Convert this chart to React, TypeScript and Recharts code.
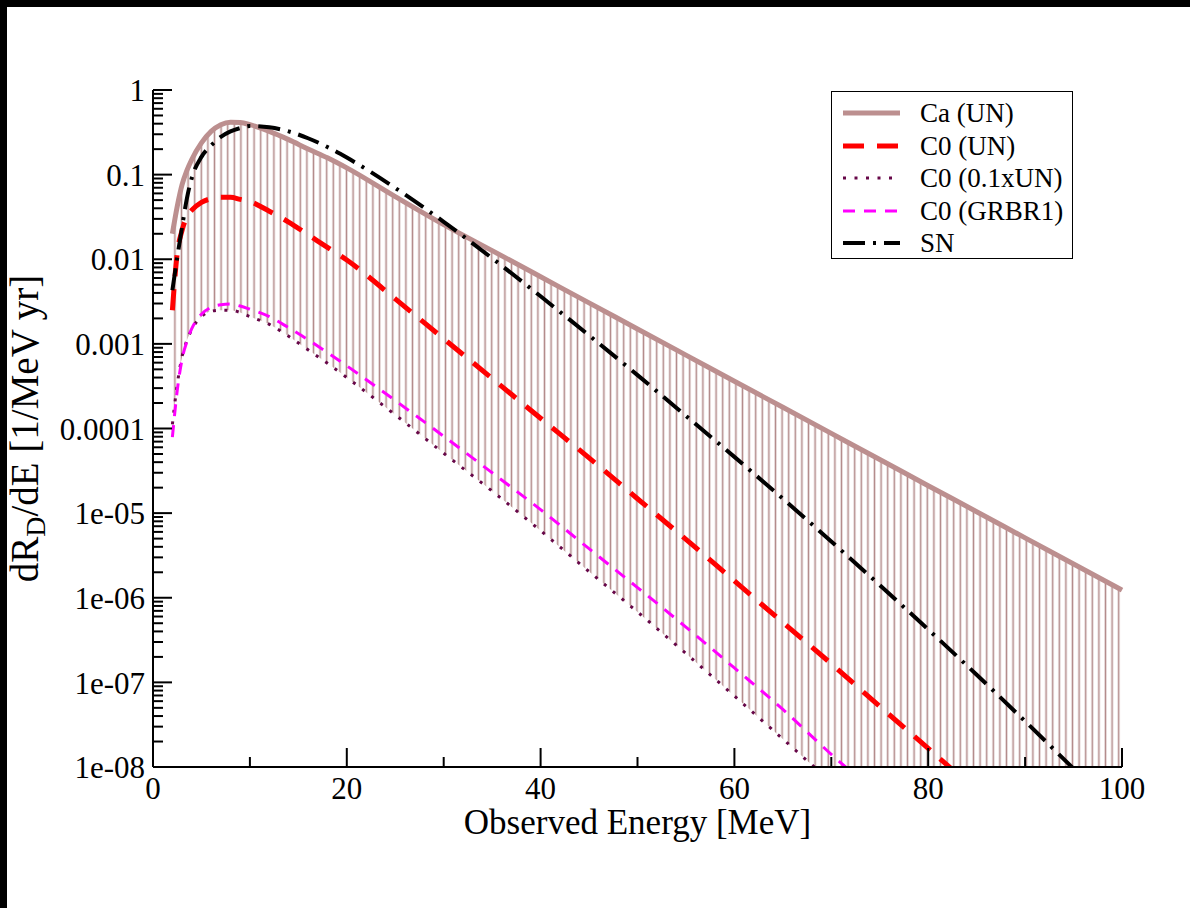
import React from "react";
import {
  ComposedChart,
  Line,
  Area,
  XAxis,
  YAxis,
  Legend,
} from "recharts";

// observed energy grid (MeV)
const ENERGY = [
  2, 2.5, 3, 3.5, 4, 5, 6, 7, 8, 9, 10, 12, 14, 16, 18, 20, 25, 30, 35, 40, 45,
  50, 55, 60, 65, 70, 75, 80, 85, 90, 95, 100,
];

// dR_D/dE [1/MeV yr]
const CA_UN = [
  0.02, 0.042, 0.076, 0.112, 0.151, 0.237, 0.324, 0.389, 0.417, 0.412, 0.389,
  0.324, 0.259, 0.201, 0.158, 0.12, 0.055, 0.0257, 0.01264, 6.21e-3, 3.05e-3,
  1.5e-3, 7.37e-4, 3.62e-4, 1.78e-4, 8.75e-5, 4.3e-5, 2.11e-5, 1.04e-5,
  5.1e-6, 2.51e-6, 1.23e-6,
];
const C0_UN = [
  2.5e-3, 1.17e-2, 2.2e-2, 3.2e-2, 3.8e-2, 4.7e-2, 5.2e-2, 5.4e-2, 5.4e-2,
  5.1e-2, 4.8e-2, 3.7e-2, 2.75e-2, 1.95e-2, 1.38e-2, 9.8e-3, 3.4e-3, 1.15e-3,
  3.9e-4, 1.32e-4, 4.5e-5, 1.48e-5, 4.9e-6, 1.58e-6, 5.1e-7, 1.66e-7, 5.2e-8,
  1.66e-8, 5.2e-9, 1.66e-9, 5.1e-10, 1.6e-10,
];
const C0_01UN = [
  1.12e-4, 3.3e-4, 7.1e-4, 1.1e-3, 1.48e-3, 2.1e-3, 2.43e-3, 2.5e-3, 2.5e-3,
  2.35e-3, 2.1e-3, 1.7e-3, 1.23e-3, 8.5e-4, 5.9e-4, 4.0e-4, 1.45e-4, 5.1e-5,
  1.82e-5, 6.2e-6, 2.04e-6, 6.8e-7, 2.19e-7, 6.9e-8, 2.14e-8, 6.6e-9, 2.0e-9,
  6.3e-10, 1.95e-10, 6.0e-11, 1.86e-11, 5.8e-12,
];
const C0_GRBR1 = [
  7.9e-5, 2.8e-4, 6.6e-4, 1.07e-3, 1.51e-3, 2.24e-3, 2.7e-3, 2.9e-3, 2.95e-3,
  2.8e-3, 2.57e-3, 2.1e-3, 1.55e-3, 1.12e-3, 7.9e-4, 5.5e-4, 2.14e-4, 8.1e-5,
  3.0e-5, 1.1e-5, 3.8e-6, 1.32e-6, 4.5e-7, 1.48e-7, 4.8e-8, 1.41e-8, 4.5e-9,
  1.41e-9, 4.5e-10, 1.41e-10, 4.5e-11, 1.41e-11,
];
const SN = [
  4.3e-3, 1.05e-2, 2.4e-2, 5.25e-2, 0.091, 0.162, 0.221, 0.279, 0.324, 0.355,
  0.376, 0.363, 0.324, 0.269, 0.212, 0.159, 0.0695, 0.0277, 0.01028, 3.65e-3,
  1.26e-3, 4.27e-4, 1.41e-4, 4.62e-5, 1.48e-5, 4.62e-6, 1.41e-6, 4.22e-7,
  1.23e-7, 3.47e-8, 9.55e-9, 2.57e-9,
];

const X_MAJOR = [0, 20, 40, 60, 80, 100];
const X_MINOR = [10, 30, 50, 70, 90];
const Y_MAJOR = [1e-8, 1e-7, 1e-6, 1e-5, 1e-4, 1e-3, 1e-2, 0.1, 1];
const Y_LABELS = ["1e-08", "1e-07", "1e-06", "1e-05", "0.0001", "0.001", "0.01", "0.1", "1"];
const Y_MINOR_MULT = [2, 3, 4, 5, 6, 7, 8, 9];

const data = ENERGY.map((e, i) => ({
  e,
  ca: CA_UN[i],
  c0: C0_UN[i],
  c001: C0_01UN[i],
  grb: C0_GRBR1[i],
  sn: SN[i],
}));

const X_TICKS = [...X_MAJOR, ...X_MINOR].sort((a, b) => a - b);
const Y_TICKS = [
  ...Y_MAJOR,
  ...Y_MAJOR.slice(0, -1).flatMap((d) => Y_MINOR_MULT.map((m) => +(d * m).toPrecision(3))),
].sort((a, b) => a - b);

const majorIndex = (v: number) => Y_MAJOR.findIndex((m) => Math.abs(v / m - 1) < 1e-6);

const SERIES = [
  { key: "ca", name: "Ca (UN)", color: "#bc8f8f", width: 5, dash: undefined },
  { key: "c0", name: "C0 (UN)", color: "#ff0000", width: 5, dash: "21 13" },
  { key: "c001", name: "C0 (0.1xUN)", color: "#670748", width: 3, dash: "3 8.5" },
  { key: "grb", name: "C0 (GRBR1)", color: "#ff00ff", width: 3, dash: "12 9" },
  { key: "sn", name: "SN", color: "#000000", width: 4, dash: "22 8 3 8" },
];

const FONT = "'Liberation Serif', 'Times New Roman', serif";
const MAJOR = 19;
const MINOR = 10;

const BottomTick = (p: any) => {
  const major = X_MAJOR.includes(p.payload.value);
  return (
    <g>
      <line x1={p.x} x2={p.x} y1={p.y} y2={p.y - (major ? MAJOR : MINOR)} stroke="#000" strokeWidth={2} />
      {major && (
        <text x={p.x} y={p.y + 32} textAnchor="middle" fontSize={31} fill="#000" fontFamily={FONT}>
          {p.payload.value}
        </text>
      )}
    </g>
  );
};

const TopTick = (p: any) => {
  const major = X_MAJOR.includes(p.payload.value);
  return <line x1={p.x} x2={p.x} y1={p.y} y2={p.y + (major ? MAJOR : MINOR)} stroke="#000" strokeWidth={2} />;
};

const LeftTick = (p: any) => {
  const idx = majorIndex(p.payload.value);
  const major = idx >= 0;
  return (
    <g>
      <line x1={p.x} x2={p.x + (major ? MAJOR : MINOR)} y1={p.y} y2={p.y} stroke="#000" strokeWidth={2} />
      {major && (
        <text x={p.x - 8} y={p.y} dy="0.36em" textAnchor="end" fontSize={31} fill="#000" fontFamily={FONT}>
          {Y_LABELS[idx]}
        </text>
      )}
    </g>
  );
};

const RightTick = (p: any) => {
  const major = majorIndex(p.payload.value) >= 0;
  return <line x1={p.x} x2={p.x - (major ? MAJOR : MINOR)} y1={p.y} y2={p.y} stroke="#000" strokeWidth={2} />;
};

const LegendBox = () => (
  <div
    style={{
      width: 242,
      height: 168,
      boxSizing: "border-box",
      border: "1.5px solid #000",
      background: "#fff",
      position: "relative",
      fontFamily: FONT,
      fontSize: 27,
      color: "#000",
    }}
  >
    {SERIES.map((s, i) => (
      <div key={s.key} style={{ position: "absolute", left: 0, top: 21 + i * 32.5 - 16, height: 32, display: "flex", alignItems: "center" }}>
        <svg width={80} height={32} style={{ display: "block" }}>
          <line x1={11} x2={68} y1={16} y2={16} stroke={s.color} strokeWidth={s.width} strokeDasharray={s.dash} />
        </svg>
        <span style={{ marginLeft: 8, lineHeight: "32px", whiteSpace: "nowrap" }}>{s.name}</span>
      </div>
    ))}
  </div>
);

export default function App() {
  return (
    <div style={{ position: "fixed", left: 0, top: 0, width: 1190, height: 908, background: "#fff", fontFamily: FONT }}>
      <ComposedChart width={1190} height={908} data={data} margin={{ top: 90, right: 68, bottom: 0, left: 0 }}>
        <defs>
          <pattern id="vhatch" patternUnits="userSpaceOnUse" width={6.6} height={12}>
            <line x1={3.3} x2={3.3} y1={0} y2={12} stroke="#b48c8c" strokeWidth={1.6} />
          </pattern>
        </defs>
        <XAxis
          xAxisId="b"
          type="number"
          dataKey="e"
          domain={[0, 100]}
          ticks={X_TICKS}
          interval={0}
          height={141}
          tickSize={0}
          tickMargin={0}
          tickLine={false}
          tick={BottomTick}
          axisLine={{ stroke: "#000", strokeWidth: 2 }}
          label={{
            content: (props: any) => {
              const vb = props.viewBox;
              return (
                <text x={vb.x + vb.width / 2} y={vb.y + 67} textAnchor="middle" fontSize={35} fill="#000" fontFamily={FONT}>
                  Observed Energy [MeV]
                </text>
              );
            },
          }}
        />
        <XAxis
          xAxisId="t"
          orientation="top"
          type="number"
          dataKey="e"
          domain={[0, 100]}
          ticks={X_TICKS}
          interval={0}
          height={0}
          tickSize={0}
          tickMargin={0}
          tickLine={false}
          tick={TopTick}
          axisLine={{ stroke: "#000", strokeWidth: 2 }}
        />
        <YAxis
          yAxisId="l"
          type="number"
          scale="log"
          domain={[1e-8, 1]}
          allowDataOverflow
          ticks={Y_TICKS}
          interval={0}
          width={153}
          tickSize={0}
          tickMargin={0}
          tickLine={false}
          tick={LeftTick}
          axisLine={{ stroke: "#000", strokeWidth: 2 }}
          label={{
            content: (props: any) => {
              const vb = props.viewBox;
              const cx = vb.x + 38;
              const cy = vb.y + vb.height / 2;
              return (
                <text transform={`translate(${cx},${cy}) rotate(-90)`} textAnchor="middle" fontSize={39} fill="#000" fontFamily={FONT}>
                  dR<tspan dy={7} fontSize={28}>D</tspan>
                  <tspan dy={-7}>/dE [1/MeV yr]</tspan>
                </text>
              );
            },
          }}
        />
        <YAxis
          yAxisId="r"
          orientation="right"
          type="number"
          scale="log"
          domain={[1e-8, 1]}
          allowDataOverflow
          ticks={Y_TICKS}
          interval={0}
          width={0}
          tickSize={0}
          tickMargin={0}
          tickLine={false}
          tick={RightTick}
          axisLine={{ stroke: "#000", strokeWidth: 2 }}
        />
        <Area
          xAxisId="b"
          yAxisId="l"
          type="monotone"
          dataKey={(d: any) => [d.c001, d.ca]}
          stroke="none"
          fill="url(#vhatch)"
          fillOpacity={1}
          isAnimationActive={false}
          legendType="none"
          activeDot={false}
        />
        {SERIES.map((s) => (
          <Line
            key={s.key}
            xAxisId="b"
            yAxisId="l"
            type="monotone"
            dataKey={s.key}
            name={s.name}
            stroke={s.color}
            strokeWidth={s.width}
            strokeDasharray={s.dash}
            dot={false}
            activeDot={false}
            isAnimationActive={false}
          />
        ))}
        <Legend
          layout="horizontal"
          verticalAlign="middle"
          align="center"
          content={() => <LegendBox />}
          wrapperStyle={{ position: "absolute", left: 831, top: 91, width: 242, height: 168 }}
        />
      </ComposedChart>
      {/* dark frame strips along the top and left edges */}
      <div style={{ position: "absolute", left: 0, top: 0, width: 1190, height: 7, background: "#000" }} />
      <div style={{ position: "absolute", left: 0, top: 0, width: 7, height: 908, background: "#000" }} />
    </div>
  );
}
